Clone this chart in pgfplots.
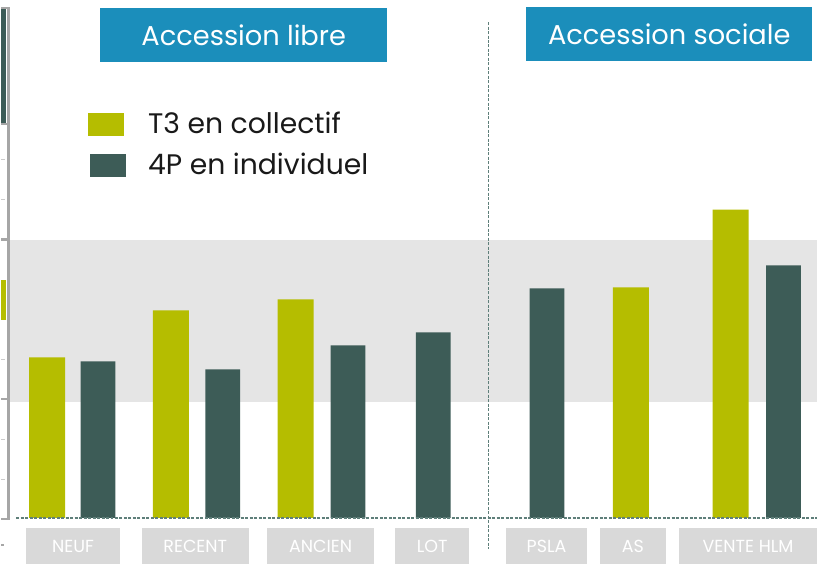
\documentclass[border=0pt]{standalone}
\usepackage{fontspec}
\setmainfont{Poppins}
\usepackage{pgfplots}
\pgfplotsset{compat=1.18}
\definecolor{yel}{HTML}{B5BD00}
\definecolor{dkg}{HTML}{3D5C57}
\definecolor{ttl}{HTML}{1B8EBB}
\definecolor{band}{HTML}{E5E5E5}
\definecolor{lbl}{HTML}{D9D9D9}
\definecolor{dsh}{HTML}{5F7F7A}
\definecolor{frm}{HTML}{A6A6A6}
\begin{document}
\begin{tikzpicture}
\begin{axis}[
  scale only axis, width=818bp, height=519bp,
  xmin=0, xmax=818, ymin=0, ymax=519,
  axis line style={draw=none},
  major tick length=0pt,
  ytick=\empty,
  xtick={72,194.5,320,432,546.5,633,748.5},
  xticklabels={\makebox[95bp]{NEUF},\makebox[107bp]{RECENT},\makebox[108bp]{ANCIEN},\makebox[74bp]{LOT},\makebox[81bp]{PSLA},\makebox[66bp]{AS},\makebox[139bp]{VENTE HLM}},
  xticklabel style={fill=lbl, text=white, font=\fontsize{17.5bp}{20bp}\selectfont, minimum height=36bp, inner sep=0pt, anchor=north},
  xticklabel shift=10bp,
  clip=false,
  legend cell align=left,
  legend style={draw=none, fill=none, at={(axis description cs:0.1064,0.7842)}, anchor=north west,
    font=\fontsize{28.3bp}{33bp}\selectfont, text=black!90, row sep=18bp, inner sep=0pt,
    nodes={inner sep=0pt},
    /tikz/every odd column/.append style={column sep=22bp}},
]
% background band
\fill[band] (axis cs:9,116) rectangle (axis cs:818,279);
% cropped left frame
\fill[dkg] (axis cs:0,395) rectangle (axis cs:5,510);
\fill[yel] (axis cs:0,198) rectangle (axis cs:5,238);
\draw[frm, line width=3bp] (axis cs:7,511) -- (axis cs:7,-2);
\draw[frm, line width=2.5bp] (axis cs:0,511) -- (axis cs:9,511);
\draw[frm, line width=2.5bp] (axis cs:0,395) -- (axis cs:9,395);
\draw[frm, line width=2.5bp] (axis cs:0,279) -- (axis cs:9,279);
\draw[frm, line width=2.5bp] (axis cs:0,119) -- (axis cs:9,119);
\draw[frm, line width=2.5bp] (axis cs:0,-1) -- (axis cs:9,-1);
\draw[frm!60, line width=1bp] (axis cs:0,359) -- (axis cs:4,359);
\draw[frm!60, line width=1bp] (axis cs:0,319) -- (axis cs:4,319);
\draw[frm!60, line width=1bp] (axis cs:0,159) -- (axis cs:4,159);
\draw[frm!60, line width=1bp] (axis cs:0,79) -- (axis cs:4,79);
\draw[frm!60, line width=1bp] (axis cs:0,39) -- (axis cs:4,39);
\draw[frm, line width=2bp] (axis cs:0,-27) -- (axis cs:3,-27);
% bars
\addplot[ybar, bar width=36, bar shift=0pt, fill=yel, draw=none,
  legend image code/.code={\fill[yel] (0bp,-12bp) rectangle (36bp,11bp);}]
  coordinates {(46,161) (170,208) (295,219) (631,231) (731,309)};
\addlegendentry{T3 en collectif}
\addplot[ybar, bar width=35, bar shift=0pt, fill=dkg, draw=none,
  legend image code/.code={\fill[dkg] (2bp,-12bp) rectangle (38bp,11bp);}]
  coordinates {(97,157) (222,149) (347.5,173) (433,186) (547,230) (784,253)};
\addlegendentry{4P en individuel}
% dashed separators
\draw[dsh, line width=1.2bp, dash pattern=on 3bp off 1.5bp] (axis cs:15,0) -- (axis cs:818,0);
\draw[dsh, line width=1.2bp, dash pattern=on 3bp off 1.5bp] (axis cs:488,497) -- (axis cs:488,-31);
% section titles
\node[fill=ttl, text=white, minimum width=288bp, minimum height=54bp, inner sep=0pt,
  font=\fontsize{27.3bp}{33bp}\selectfont] at (axis cs:243,484) {Accession libre};
\node[fill=ttl, text=white, minimum width=287bp, minimum height=54bp, inner sep=0pt,
  font=\fontsize{27.3bp}{33bp}\selectfont] at (axis cs:669.5,485) {Accession sociale};
\end{axis}
\end{tikzpicture}
\end{document}
